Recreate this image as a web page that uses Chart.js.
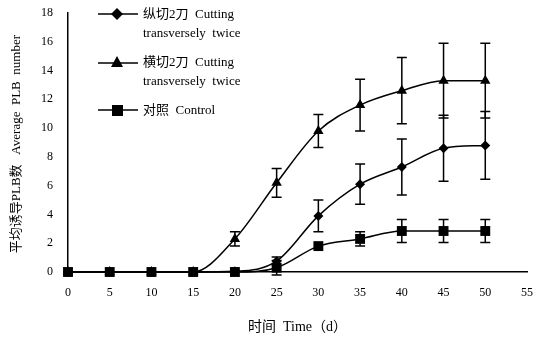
<!DOCTYPE html>
<html>
<head>
<meta charset="utf-8">
<script src="https://cdn.jsdelivr.net/npm/chart.js@4"></script>
<style>
  body { margin: 0; background: #fff; }
  #wrap { position: relative; width: 534px; height: 340px; }
  #legend { position: absolute; left: 96px; top: 4px; font-family: "Liberation Serif", "Noto Sans CJK SC", serif; font-size: 13px; color: #000; }
  .item { position: relative; height: 48px; }
  .item svg { position: absolute; left: 0; top: 2px; }
  .item .txt { position: absolute; left: 47px; top: 0; line-height: 19px; white-space: nowrap; }
</style>
</head>
<body>
<div id="wrap">
  <canvas id="chart" width="534" height="340"></canvas>
  <div id="legend">
    <div class="item">
      <svg width="44" height="16"><line x1="2" y1="8" x2="42" y2="8" stroke="#000" stroke-width="1.5"/><polygon points="21,2 27,8 21,14 15,8" fill="#000"/></svg>
      <div class="txt">纵切2刀&nbsp; Cutting<br>transversely&nbsp; twice</div>
    </div>
    <div class="item">
      <svg width="44" height="16"><line x1="2" y1="9" x2="42" y2="9" stroke="#000" stroke-width="1.5"/><polygon points="21,2 27,13 15,13" fill="#000"/></svg>
      <div class="txt">横切2刀&nbsp; Cutting<br>transversely&nbsp; twice</div>
    </div>
    <div class="item">
      <svg width="44" height="16"><line x1="2" y1="8" x2="42" y2="8" stroke="#000" stroke-width="1.5"/><rect x="16" y="3" width="11" height="11" fill="#000"/></svg>
      <div class="txt">对照&nbsp; Control</div>
    </div>
  </div>
</div>
<script>
const days = [0, 5, 10, 15, 20, 25, 30, 35, 40, 45, 50];
const longCut = [0, 0, 0, 0, 0.05, 0.75, 3.9, 6.1, 7.3, 8.6, 8.8];
const longCutErr = [0, 0, 0, 0, 0, 0.3, 1.1, 1.4, 1.95, 2.3, 2.35];
const crossCut = [0, 0, 0, 0, 2.3, 6.2, 9.8, 11.6, 12.6, 13.3, 13.3];
const crossCutErr = [0, 0, 0, 0, 0.5, 1.0, 1.15, 1.8, 2.3, 2.6, 2.6];
const control = [0, 0, 0, 0, 0, 0.3, 1.8, 2.3, 2.85, 2.85, 2.85];
const controlErr = [0, 0, 0, 0, 0, 0.5, 0, 0.5, 0.8, 0.8, 0.8];
const yTicks = [0, 2, 4, 6, 8, 10, 12, 14, 16, 18];
const xTicks = [0, 5, 10, 15, 20, 25, 30, 35, 40, 45, 50, 55];

const serif = "'Liberation Serif', 'Noto Sans CJK SC', serif";

function pts(vals) {
    return days.map((d, i) => ({ x: d, y: vals[i] }));
}

// draws vertical error bars with caps from each dataset's errors list
const errorBars = {
    id: 'errorBars',
    afterDatasetsDraw(chart) {
        const ctx = chart.ctx;
        const xs = chart.scales.x, ys = chart.scales.y;
        ctx.save();
        ctx.strokeStyle = '#000';
        ctx.lineWidth = 1.5;
        chart.data.datasets.forEach(ds => {
            ds.data.forEach((p, i) => {
                const e = ds.errors[i];
                if (!e) return;
                const x = xs.getPixelForValue(p.x);
                const top = ys.getPixelForValue(p.y + e);
                const bot = ys.getPixelForValue(p.y - e);
                ctx.beginPath();
                ctx.moveTo(x, top); ctx.lineTo(x, bot);
                ctx.moveTo(x - 5, top); ctx.lineTo(x + 5, top);
                ctx.moveTo(x - 5, bot); ctx.lineTo(x + 5, bot);
                ctx.stroke();
            });
        });
        ctx.restore();
    }
};

const common = {
    borderColor: '#000',
    backgroundColor: '#000',
    borderWidth: 1.5,
    pointBorderWidth: 0,
    cubicInterpolationMode: 'monotone',
    tension: 0.4
};

new Chart(document.getElementById('chart'), {
    type: 'line',
    data: {
        datasets: [
            Object.assign({ label: '对照 Control', data: pts(control), errors: controlErr, pointStyle: 'rect', pointRadius: 7 }, common),
            Object.assign({ label: '纵切2刀 Cutting transversely twice', data: pts(longCut), errors: longCutErr, pointStyle: 'rectRot', pointRadius: 5 }, common),
            Object.assign({ label: '横切2刀 Cutting transversely twice', data: pts(crossCut), errors: crossCutErr, pointStyle: 'triangle', pointRadius: 6 }, common)
        ]
    },
    options: {
        responsive: false,
        animation: false,
        clip: false,
        layout: { padding: { top: 13, right: 6, left: 0, bottom: 0 } },
        plugins: { legend: { display: false }, tooltip: { enabled: false } },
        scales: {
            x: {
                type: 'linear',
                min: 0, max: 55,
                afterFit: s => { s.height = 68; s.paddingLeft = 0; s.paddingRight = 0; },
                afterBuildTicks: s => { s.ticks = xTicks.map(v => ({ value: v })); },
                grid: { display: false, drawTicks: true, tickLength: 4, color: '#000' },
                border: { color: '#000', width: 1.5 },
                ticks: { color: '#000', font: { family: serif, size: 12 }, padding: 10, maxRotation: 0 },
                title: { display: true, text: '时间  Time（d）', color: '#000', font: { family: serif, size: 14 }, padding: { top: 10 } }
            },
            y: {
                min: 0, max: 18,
                afterFit: s => { s.width = 68; s.paddingTop = 0; s.paddingBottom = 0; },
                afterBuildTicks: s => { s.ticks = yTicks.map(v => ({ value: v })); },
                grid: { display: false, drawTicks: true, tickLength: 4, color: '#000' },
                border: { color: '#000', width: 1.5 },
                ticks: { color: '#000', font: { family: serif, size: 12 }, padding: 11 },
                title: { display: true, text: '平均诱导PLB数   Average  PLB  number ', color: '#000', font: { family: serif, size: 13 }, padding: { bottom: 0, top: 9 } }
            }
        }
    },
    plugins: [errorBars]
});
</script>
</body>
</html>
